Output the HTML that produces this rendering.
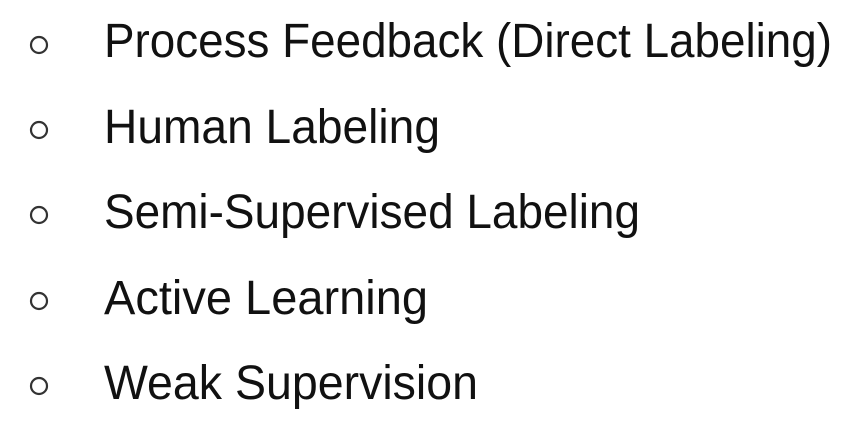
<!DOCTYPE html>
<html><head><meta charset="utf-8"><style>
html,body{margin:0;padding:0;background:#fff;}
svg{display:block}
text{font-family:"Liberation Sans",sans-serif;font-size:48px;fill:#111;}
</style></head><body>
<svg width="866" height="430" viewBox="0 0 866 430">
<g>
<circle cx="39" cy="45" r="8" fill="none" stroke="#333" stroke-width="2.2"/>
<text x="104" y="57" textLength="728" lengthAdjust="spacingAndGlyphs">Process Feedback (Direct Labeling)</text>
</g>
<g>
<circle cx="39" cy="130" r="8" fill="none" stroke="#333" stroke-width="2.2"/>
<text x="104" y="143" textLength="336" lengthAdjust="spacingAndGlyphs">Human Labeling</text>
</g>
<g>
<circle cx="39" cy="215" r="8" fill="none" stroke="#333" stroke-width="2.2"/>
<text x="104" y="228" textLength="536" lengthAdjust="spacingAndGlyphs">Semi-Supervised Labeling</text>
</g>
<g>
<circle cx="39" cy="301" r="8" fill="none" stroke="#333" stroke-width="2.2"/>
<text x="104" y="314" textLength="324" lengthAdjust="spacingAndGlyphs">Active Learning</text>
</g>
<g>
<circle cx="39" cy="386" r="8" fill="none" stroke="#333" stroke-width="2.2"/>
<text x="104" y="399" textLength="374" lengthAdjust="spacingAndGlyphs">Weak Supervision</text>
</g>
</svg>
</body></html>
